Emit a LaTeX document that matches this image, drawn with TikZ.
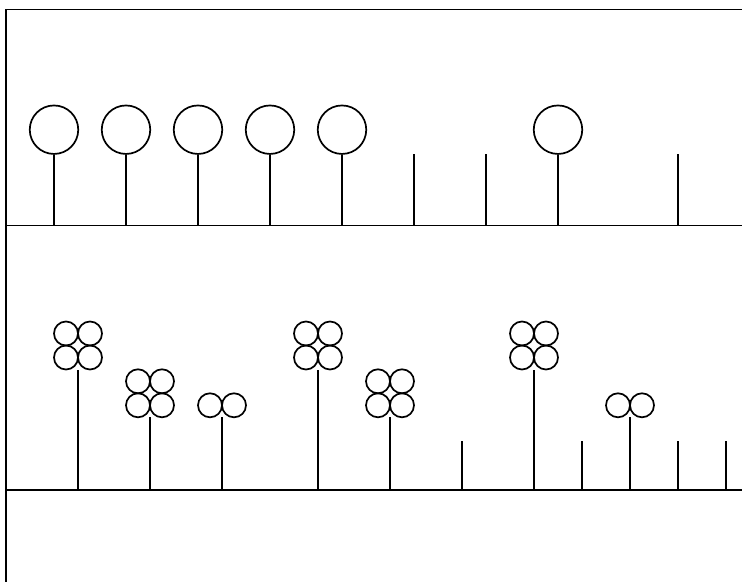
\documentclass[tikz,border=0pt]{standalone}
\begin{document}
\begin{tikzpicture}[x=1pt,y=-1pt,
  ln/.style={line width=1.9pt},
  bigc/.style={circle,draw,line width=1.7pt,minimum size=48.5pt,inner sep=0pt},
  smc/.style={circle,draw,line width=1.7pt,minimum size=24pt,inner sep=0pt}]
\useasboundingbox (0,0) rectangle (742,582);
% frame and ground lines
\coordinate (fr1) at (742,9.5);
\coordinate (fr2) at (6,9.5);
\coordinate (fr3) at (6,582);
\draw[ln] (fr1) -- (fr2) -- (fr3);
\coordinate (g1a) at (6,225.5); \coordinate (g1b) at (742,225.5);
\coordinate (g2a) at (6,489.7); \coordinate (g2b) at (742,489.7);
\draw[ln] (g1a) -- (g1b);
\draw[ln] (g2a) -- (g2b);
% top row with big circles
\foreach \i/\x in {1/54,2/126,3/198,4/270,5/342,6/558}{
  \node[bigc] (t\i) at (\x,129.7) {};
  \coordinate (tb\i) at (\x,225.5);
  \draw[ln] (tb\i) -- (t\i.south);
}
% top row bare sticks
\foreach \i/\x in {7/414,8/486,9/678}{
  \coordinate (tb\i) at (\x,225.5);
  \coordinate (tt\i) at (\x,153.5);
  \draw[ln] (tb\i) -- (tt\i);
}
% bottom row four-circle clusters
\foreach \i/\x/\y in {1/78/369.5,2/150/417.3,4/318/369.5,5/390/417.3,7/534/369.5}{
  \coordinate (bt\i) at (\x,\y);
  \node[smc] (b\i ll) at (\x-12,\y-12) {};
  \node[smc] (b\i lr) at (\x+12,\y-12) {};
  \node[smc] (b\i ul) at (\x-12,\y-36) {};
  \node[smc] (b\i ur) at (\x+12,\y-36) {};
  \coordinate (bb\i) at (\x,489.7);
  \draw[ln] (bb\i) -- (bt\i);
}
% bottom row two-circle clusters
\foreach \i/\x in {3/222,9/630}{
  \coordinate (bt\i) at (\x,417.3);
  \node[smc] (b\i l) at (\x-12,405.3) {};
  \node[smc] (b\i r) at (\x+12,405.3) {};
  \coordinate (bb\i) at (\x,489.7);
  \draw[ln] (bb\i) -- (bt\i);
}
% bottom row bare sticks
\foreach \i/\x in {6/462,8/582,10/678,11/726}{
  \coordinate (bt\i) at (\x,441.3);
  \coordinate (bb\i) at (\x,489.7);
  \draw[ln] (bb\i) -- (bt\i);
}
\end{tikzpicture}
\end{document}
